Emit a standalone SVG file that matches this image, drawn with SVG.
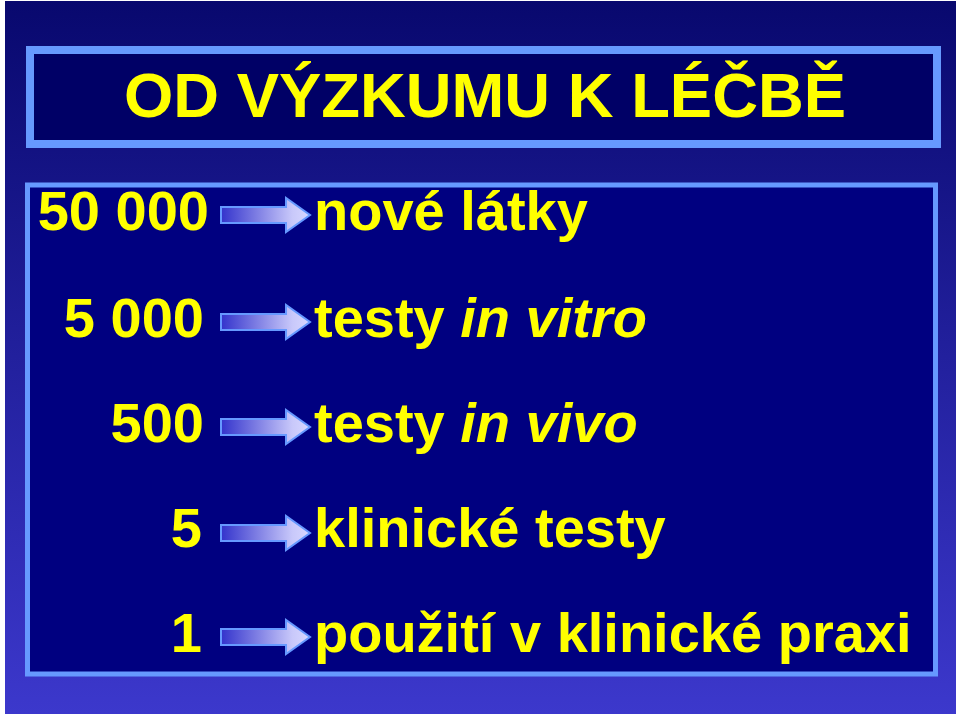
<svg xmlns="http://www.w3.org/2000/svg" width="960" height="716" viewBox="0 0 960 716">
<defs>
<linearGradient id="bg" x1="0" y1="0" x2="0" y2="1">
<stop offset="0" stop-color="#08086e"/>
<stop offset="1" stop-color="#3c38cc"/>
</linearGradient>
<linearGradient id="ag" x1="221" y1="0" x2="310" y2="0" gradientUnits="userSpaceOnUse">
<stop offset="0" stop-color="#3333cc"/>
<stop offset="0.8" stop-color="#c8c8fa"/>
<stop offset="1" stop-color="#d8d8ff"/>
</linearGradient>
<path id="arrow" d="M221,-8 H286 V-17 L310,0 L286,17 V8 H221 Z"/>
</defs>
<style>
.t{font-family:"Liberation Sans",Arial,sans-serif;font-weight:bold;fill:#ffff00}
.b{font-size:56px}
.i{font-style:italic}
.arr{fill:url(#ag);stroke:#6699ff;stroke-width:2}
</style>
<rect x="0" y="0" width="960" height="716" fill="#ffffff"/>
<rect x="5" y="1" width="951" height="713" fill="url(#bg)"/>
<g id="title">
<rect x="30" y="50" width="907" height="94" fill="#000066" stroke="#6699ff" stroke-width="8"/>
<text class="t" x="124" y="117" font-size="63.4">OD VÝZKUMU K LÉČBĚ</text>
</g>
<g id="body">
<rect x="27.5" y="185" width="908" height="489" fill="#000080" stroke="#6699ff" stroke-width="5"/>
</g>
<g id="numbers">
<text class="t b" x="209" y="230" text-anchor="end">50 000</text>
<text class="t b" x="204" y="337" text-anchor="end">5 000</text>
<text class="t b" x="204" y="442" text-anchor="end">500</text>
<text class="t b" x="202" y="547" text-anchor="end">5</text>
<text class="t b" x="202" y="652" text-anchor="end">1</text>
</g>
<g id="connectors">
<use href="#arrow" class="arr" transform="translate(0,215)"/>
<use href="#arrow" class="arr" transform="translate(0,322)"/>
<use href="#arrow" class="arr" transform="translate(0,427)"/>
<use href="#arrow" class="arr" transform="translate(0,533)"/>
<use href="#arrow" class="arr" transform="translate(0,637)"/>
</g>
<g id="labels">
<text class="t b" x="314" y="230">nové látky</text>
<text class="t b" x="314" y="337">testy <tspan class="i">in vitro</tspan></text>
<text class="t b" x="314" y="442">testy <tspan class="i">in vivo</tspan></text>
<text class="t b" x="314" y="547">klinické testy</text>
<text class="t b" x="314" y="652">použití v klinické praxi</text>
</g>
</svg>
